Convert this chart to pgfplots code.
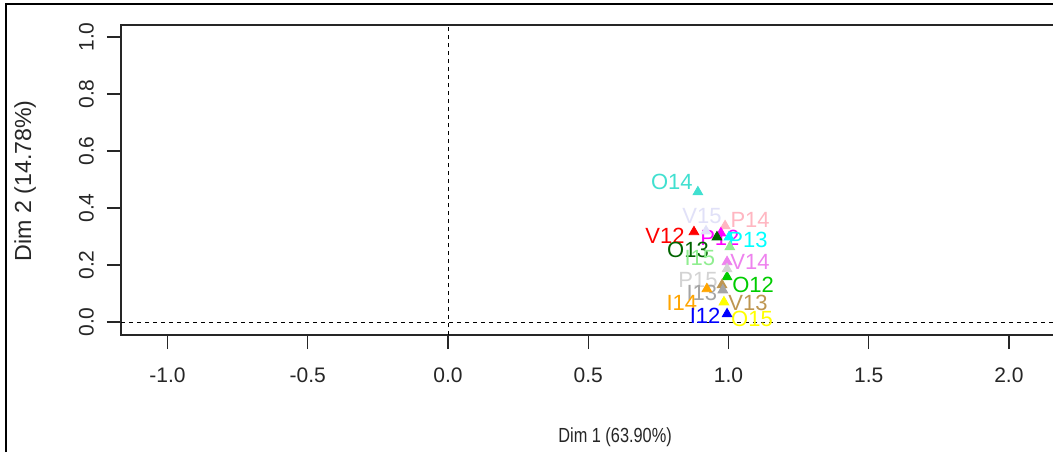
\documentclass[border=0pt]{standalone}
\usepackage{pgfplots}
\pgfplotsset{compat=1.18}
\usepackage{fontspec}
\setmainfont{Liberation Sans}
\newfontfamily\xlabfont[FakeStretch=0.8]{Liberation Sans}
\definecolor{turq}{RGB}{64,224,208}
\definecolor{lav}{RGB}{225,225,248}
\definecolor{pinkc}{RGB}{255,182,193}
\definecolor{dgreen}{RGB}{0,100,0}
\definecolor{lgreen}{RGB}{144,238,144}
\definecolor{violetc}{RGB}{238,130,238}
\definecolor{lgray}{RGB}{211,211,211}
\definecolor{greenc}{RGB}{0,205,0}
\definecolor{grayc}{RGB}{165,165,165}
\definecolor{tanc}{RGB}{190,150,80}
\definecolor{orangec}{RGB}{255,165,0}
\definecolor{yellowc}{RGB}{255,255,0}
\definecolor{cyanc}{RGB}{0,255,255}
\definecolor{magc}{RGB}{255,0,255}
\definecolor{redc}{RGB}{255,0,0}
\definecolor{bluec}{RGB}{0,0,255}
\newcommand\ptfont{\fontsize{11}{13}\selectfont}
\newcommand\pt[6]{\addplot[only marks, mark=triangle*, mark size=2.8pt, color=#1] coordinates {(#2,#3)} node[text=#1, xshift=#4pt, yshift=#5pt, anchor=center, inner sep=0pt, font=\ptfont] {#6};}
\begin{document}
\begin{tikzpicture}
\useasboundingbox (0,0) rectangle (526.5pt,226pt);
\clip (0,0) rectangle (526.5pt,226pt);
\fill[white] (0,0) rectangle (526.5pt,226pt);
\draw[line width=0.8pt] (3pt,0) -- (3pt,224pt) -- (527pt,224pt);
\begin{axis}[
  at={(60.5pt,58.5pt)}, anchor=south west,
  scale only axis, width=479pt, height=155pt,
  xmin=-1.166, xmax=2.25, ymin=-0.0456, ymax=1.042,
  axis line style={line width=0.6pt, black!85},
  tick style={line width=0.6pt, black!85},
  tick align=outside, major tick length=7pt,
  xtick={-1,-0.5,0,0.5,1,1.5,2},
  ytick={0,0.2,0.4,0.6,0.8,1},
  xtick pos=bottom, ytick pos=left,
  xticklabels={-1.0,-0.5,0.0,0.5,1.0,1.5,2.0},
  yticklabels={0.0,0.2,0.4,0.6,0.8,1.0},
  ticklabel style={font=\fontsize{10.5}{12}\selectfont, text=black!85},
  yticklabel style={rotate=90, anchor=south},
  xticklabel shift=6pt, yticklabel shift=3pt,
  xlabel={\xlabfont Dim 1 (63.90\%)}, ylabel={Dim 2 (14.78\%)},
  every axis x label/.style={at={(rel axis cs:0.5157,-0.329)}, anchor=center, font=\fontsize{10.2}{12}\selectfont, text=black!85},
  every axis y label/.style={at={(rel axis cs:-0.1002,0.497)}, anchor=center, rotate=90, font=\fontsize{11.6}{13}\selectfont, text=black!85},
  clip=false,
]
\addplot[black, line width=0.5pt, dash pattern=on 2.2pt off 1.8pt] coordinates {(0,-0.0456) (0,1.042)};
\addplot[black, line width=0.5pt, dash pattern=on 2.2pt off 1.8pt] coordinates {(-1.166,0) (2.25,0)};
\pt{turq}{0.891}{0.456}{-13}{5}{O14}
\pt{lav}{0.920}{0.319}{-2}{7.5}{V15}
\pt{pinkc}{0.988}{0.337}{12.5}{3}{P14}
\pt{redc}{0.877}{0.316}{-14.5}{-2}{V12}
\pt{magc}{0.973}{0.312}{-0.5}{-2.5}{P12}
\pt{dgreen}{0.959}{0.298}{-14.5}{-6.5}{O13}
\pt{cyanc}{1.002}{0.298}{9.5}{-1.5}{P13}
\pt{lgreen}{1.005}{0.263}{-15}{-5.5}{I15}
\pt{violetc}{0.995}{0.211}{11.5}{0}{V14}
\pt{greenc}{0.995}{0.158}{13}{-4}{O12}
\pt{lgray}{0.995}{0.186}{-14.5}{-5.5}{P15}
\pt{tanc}{0.977}{0.130}{13}{-9}{V13}
\pt{grayc}{0.980}{0.112}{-10.5}{-1.5}{I13}
\pt{orangec}{0.923}{0.116}{-12.5}{-7}{I14}
\pt{yellowc}{0.984}{0.070}{14}{-8.5}{O15}
\pt{bluec}{0.995}{0.028}{-11}{-1}{I12}
\end{axis}
\end{tikzpicture}
\end{document}
